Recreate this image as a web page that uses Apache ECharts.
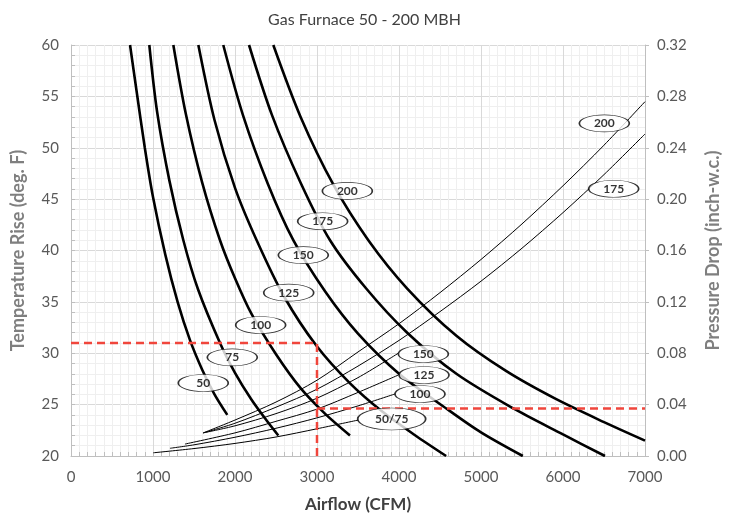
<!DOCTYPE html>
<html>
<head>
<meta charset="utf-8">
<script src="https://cdn.jsdelivr.net/npm/echarts@6/dist/echarts.min.js"></script>
<style>
  html, body { margin: 0; padding: 0; background: #fff; }
  #chart { width: 729px; height: 514px; }
</style>
</head>
<body>
<div id="chart"></div>
<script>
// furnace capacities (MBH)
const furnaceSizes = ['50', '75', '100', '125', '150', '175', '200'];

// temperature rise curves: [airflow CFM, temp rise F]
const tempRise50 = [[720, 60], [800, 55.5], [900, 50], [1000, 45.2], [1150, 39.6], [1300, 35], [1450, 31.3], [1600, 28.4], [1750, 26], [1906, 24]];
const tempRise75 = [[955, 60], [1050, 53.5], [1200, 46.8], [1370, 41], [1550, 36.2], [1817, 31], [2000, 28.1], [2200, 25.5], [2400, 23.3], [2528, 22]];
const tempRise100 = [[1248, 60], [1400, 53.3], [1600, 46.6], [1817, 41], [2000, 37.3], [2203, 33.8], [2500, 29.9], [2800, 26.6], [3100, 24.1], [3402, 22]];
const tempRise125 = [[1553, 60], [1750, 52.7], [2000, 46.1], [2264, 41], [2600, 35.5], [2996, 30.7], [3400, 27.1], [3800, 24.3], [4200, 22], [4575, 20]];
const tempRise150 = [[1857, 60], [2100, 53.1], [2400, 46.5], [2711, 41], [3100, 36], [3500, 31.9], [4000, 28], [4581, 24.6], [5000, 22.3], [5510, 20]];
const tempRise175 = [[2171, 60], [2450, 53.2], [2800, 46.6], [3159, 41], [3600, 36.3], [4100, 32], [4700, 28], [5400, 24.6], [6000, 22.1], [6512, 20]];
const tempRise200 = [[2467, 60], [2800, 53], [3200, 46.4], [3626, 41], [4100, 36.3], [4700, 31.7], [5300, 28.3], [5900, 25.6], [6500, 23.3], [7000, 21.5]];

// pressure drop curves: [airflow CFM, inch w.c.]
const pressure5075 = [[1004, 0.0025], [1500, 0.0058], [2000, 0.0098], [2500, 0.0148], [3000, 0.0212], [3504, 0.028]];
const pressure100 = [[1207, 0.006], [1500, 0.0087], [2000, 0.0146], [2500, 0.0216], [3000, 0.0297], [3500, 0.039], [3951, 0.0483]];
const pressure125 = [[1390, 0.0093], [2000, 0.018], [2500, 0.027], [3000, 0.0365], [3500, 0.0495], [3991, 0.063]];
const pressure150 = [[1613, 0.018], [2000, 0.0235], [2500, 0.033], [3000, 0.045], [3500, 0.061], [3991, 0.08]];
const pressure175 = [[1613, 0.018], [2000, 0.0255], [2500, 0.038], [3000, 0.052], [3500, 0.07], [4000, 0.09], [4500, 0.1124], [5000, 0.1361], [5500, 0.1618], [6000, 0.1895], [6500, 0.2191], [7000, 0.2507]];
const pressure200 = [[1613, 0.018], [2000, 0.028], [2500, 0.042], [3000, 0.059], [3500, 0.081], [4000, 0.103], [4500, 0.1272], [5000, 0.153], [5500, 0.1807], [6000, 0.2104], [6500, 0.242], [7000, 0.2759]];

// callout labels: [CFM, value, text]
const tempLabels = [[1613, 27.1, '50'], [1967, 29.6, '75'], [2313, 32.75, '100'], [2655, 35.9, '125'], [2833, 39.55, '150'], [3069, 42.85, '175'], [3370, 45.8, '200']];
const pressureLabels = [[3911, 0.0288, '50/75'], [4256, 0.0483, '100'], [4305, 0.0631, '125'], [4297, 0.0794, '150'], [6618, 0.2081, '175'], [6504, 0.259, '200']];

// example selection (red dashed)
const selTemp = [[0, 31], [3000, 31], [3000, 20]];
const selPressure = [[3000, 0.037], [7000, 0.037]];

const tempCurves = [tempRise50, tempRise75, tempRise100, tempRise125, tempRise150, tempRise175, tempRise200];
const pressureCurves = [pressure5075, pressure100, pressure125, pressure150, pressure175, pressure200];

const chart = echarts.init(document.getElementById('chart'));
const font = 'Lato, "Open Sans", sans-serif';
const red = '#f0463c';

const series = [];
tempCurves.forEach((d, i) => {
  series.push({
    name: furnaceSizes[i] + ' MBH',
    type: 'line',
    yAxisIndex: 0,
    smooth: 0.3,
    showSymbol: false,
    silent: true,
    lineStyle: { color: '#000', width: 2.6 },
    data: d,
  });
});
pressureCurves.forEach((d) => {
  series.push({
    type: 'line',
    yAxisIndex: 1,
    smooth: 0.3,
    showSymbol: false,
    silent: true,
    lineStyle: { color: '#000', width: 1 },
    data: d,
  });
});
series.push({
  type: 'line',
  yAxisIndex: 0,
  showSymbol: false,
  silent: true,
  z: 4,
  lineStyle: { color: red, width: 2.5, type: [8, 5] },
  data: selTemp,
});
series.push({
  type: 'line',
  yAxisIndex: 1,
  showSymbol: false,
  silent: true,
  z: 4,
  lineStyle: { color: red, width: 2.5, type: [8, 5] },
  data: selPressure,
});

function labelItems(list) {
  return list.map((l) => ({
    value: [l[0], l[1]],
    text: l[2],
    symbolSize: l[2].length > 3 ? [68, 22] : [50, 17],
  }));
}
const labelStyle = {
  type: 'scatter',
  symbol: 'circle',
  z: 10,
  silent: true,
  itemStyle: { color: '#fff', borderColor: '#000', borderWidth: 1 },
  label: {
    show: true,
    position: 'inside',
    color: '#000',
    fontFamily: font,
    fontWeight: 'bold',
    fontSize: 12,
    formatter: (p) => p.data.text,
  },
};
series.push(Object.assign({}, labelStyle, { yAxisIndex: 0, data: labelItems(tempLabels) }));
series.push(Object.assign({}, labelStyle, { yAxisIndex: 1, data: labelItems(pressureLabels) }));

chart.setOption({
  animation: false,
  title: {
    text: 'Gas Furnace 50 - 200 MBH',
    left: 'center',
    top: 7,
    textStyle: { color: '#404040', fontSize: 16, fontWeight: 'normal', fontFamily: font },
  },
  grid: { left: 71, right: 84, top: 45, bottom: 58, outerBoundsMode: 'none' },
  xAxis: {
    type: 'value',
    min: 0,
    max: 7000,
    interval: 1000,
    name: 'Airflow (CFM)',
    nameLocation: 'middle',
    nameGap: 40,
    nameTextStyle: { color: '#404040', fontSize: 17, fontWeight: 'bold', fontFamily: font },
    axisLine: { show: true, lineStyle: { color: '#bfbfbf' } },
    axisTick: { show: true, inside: true, length: 4, lineStyle: { color: '#bfbfbf' } },
    minorTick: { show: true, splitNumber: 10, length: 4, lineStyle: { color: '#bfbfbf' } },
    axisLabel: { color: '#595959', fontSize: 15, fontFamily: font, margin: 14, formatter: (v) => String(v) },
    splitLine: { show: true, lineStyle: { color: '#d9d9d9' } },
    minorSplitLine: { show: true, lineStyle: { color: '#efefef' } },
  },
  yAxis: [
    {
      type: 'value',
      min: 20,
      max: 60,
      interval: 5,
      name: 'Temperature Rise (deg. F)',
      nameLocation: 'middle',
      nameGap: 44,
      nameTextStyle: { color: '#7f7f7f', fontSize: 18, fontWeight: 'bold', fontFamily: font },
      axisLine: { show: true, lineStyle: { color: '#bfbfbf' } },
      axisTick: { show: true, inside: true, length: 4, lineStyle: { color: '#bfbfbf' } },
      minorTick: { show: true, splitNumber: 5, length: 4, lineStyle: { color: '#bfbfbf' } },
      axisLabel: { color: '#595959', fontSize: 15, fontFamily: font, margin: 12 },
      splitLine: { show: true, lineStyle: { color: '#d9d9d9' } },
      minorSplitLine: { show: true, lineStyle: { color: '#efefef' } },
    },
    {
      type: 'value',
      min: 0,
      max: 0.32,
      interval: 0.04,
      position: 'right',
      name: 'Pressure Drop (inch-w.c.)',
      nameLocation: 'middle',
      nameGap: 59,
      nameTextStyle: { color: '#7f7f7f', fontSize: 18, fontWeight: 'bold', fontFamily: font },
      axisLine: { show: true, lineStyle: { color: '#bfbfbf' } },
      axisTick: { show: true, length: 4, lineStyle: { color: '#bfbfbf' } },
      axisLabel: {
        color: '#595959',
        fontSize: 15,
        fontFamily: font,
        margin: 12,
        formatter: (v) => v.toFixed(2),
      },
      splitLine: { show: false },
    },
  ],
  series: series,
});
</script>
</body>
</html>
